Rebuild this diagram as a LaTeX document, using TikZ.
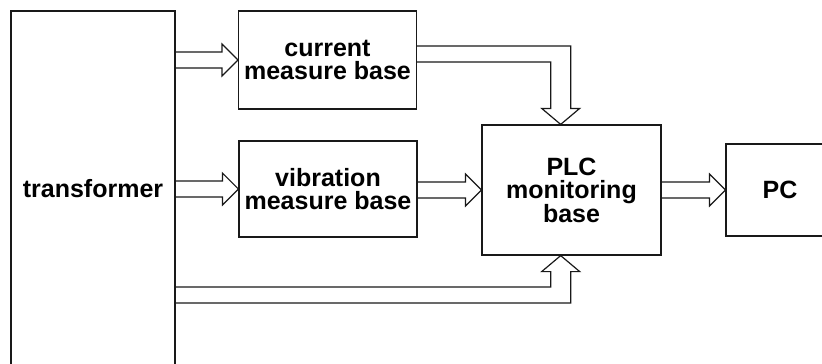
\documentclass[tikz,border=0pt]{standalone}
\usepackage{fontspec}
\setmainfont{Liberation Sans}
\usetikzlibrary{calc}
\begin{document}
\begin{tikzpicture}[x=1pt,y=-1pt,
  line width=1.2pt,
  blockbox/.style={draw=black!90, line width=1.2pt, align=center, inner sep=0pt,
    font=\fontsize{25}{23.5}\selectfont\bfseries},
  hollow/.style={draw=black!90, line width=1.2pt, line join=miter}]
\useasboundingbox (0,0) rectangle (822,364);
\clip (0,0) rectangle (822,364);

% blocks
\node[blockbox, minimum width=164pt, minimum height=356pt] (tr)  at (93,189)    {transformer};
\node[blockbox, minimum width=178pt, minimum height=98pt]  (cur) at (327.5,60)  {current\\measure base};
\node[blockbox, minimum width=178pt, minimum height=96pt]  (vib) at (328,189)   {vibration\\measure base};
\node[blockbox, minimum width=179pt, minimum height=130pt] (plc) at (571.5,190) {PLC\\monitoring\\base};
\node[blockbox, minimum width=108pt, minimum height=92pt]  (pc)  at (780,190)   {PC};

% tips on the top and bottom sides of the PLC block, and the shaft starts
\coordinate (t1) at ($(plc.north west)!0.44!(plc.north east)$);
\coordinate (t2) at ($(plc.south west)!0.44!(plc.south east)$);
\coordinate (c1) at ($(cur.east)+(0,-6)$);
\coordinate (c2) at ($(tr.east)+(0,106)$);

% straight hollow arrows
\newcommand\hollowright[2]{%
  \draw[hollow] let \p1=(#1.east), \p2=(#2.west) in
    (\x1,\y2+8pt) -- (\x2-16pt,\y2+8pt) -- (\x2-16pt,\y2+16pt) -- (\x2,\y2)
    -- (\x2-16pt,\y2-16pt) -- (\x2-16pt,\y2-8pt) -- (\x1,\y2-8pt);}
\hollowright{tr}{cur}
\hollowright{tr}{vib}
\hollowright{vib}{plc}
\hollowright{plc}{pc}

% bent hollow arrow: current block down into the PLC block
\draw[hollow] let \p1=(c1), \p2=(t1) in
  (\x1,\y1+8pt) -- (\x2+10pt,\y1+8pt) -- (\x2+10pt,\y2+16pt) -- (\x2+19pt,\y2+16pt)
  -- (\x2,\y2) -- (\x2-19pt,\y2+16pt) -- (\x2-10pt,\y2+16pt) -- (\x2-10pt,\y1-8pt)
  -- (\x1,\y1-8pt);

% bent hollow arrow: transformer up into the PLC block
\draw[hollow] let \p1=(c2), \p2=(t2) in
  (\x1,\y1+8pt) -- (\x2-10pt,\y1+8pt) -- (\x2-10pt,\y2-16pt) -- (\x2-19pt,\y2-16pt)
  -- (\x2,\y2) -- (\x2+19pt,\y2-16pt) -- (\x2+10pt,\y2-16pt) -- (\x2+10pt,\y1-8pt)
  -- (\x1,\y1-8pt);
\end{tikzpicture}
\end{document}
